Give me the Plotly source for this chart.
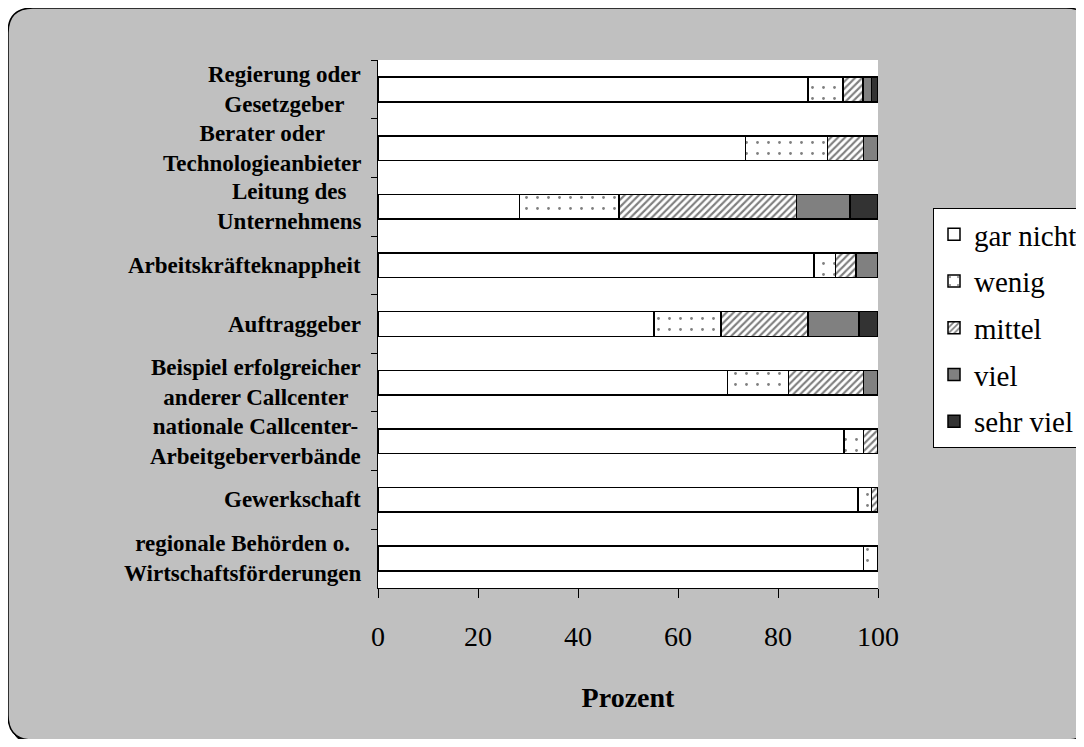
import plotly.graph_objects as go

categories = [
    "Regierung oder<br>Gesetzgeber",
    "Berater oder<br>Technologieanbieter",
    "Leitung des<br>Unternehmens",
    "Arbeitskräfteknappheit",
    "Auftraggeber",
    "Beispiel erfolgreicher<br>anderer Callcenter",
    "nationale Callcenter-<br>Arbeitgeberverbände",
    "Gewerkschaft",
    "regionale Behörden o.<br>Wirtschaftsförderungen",
]

gar_nicht = [86.0, 73.5, 28.3, 87.2, 55.2, 69.9, 93.2, 96.0, 97.1]
wenig = [7.0, 16.4, 19.9, 4.3, 13.4, 12.2, 3.9, 2.7, 2.9]
mittel = [4.0, 7.2, 35.5, 4.1, 17.4, 15.0, 2.9, 1.3, 0]
viel = [1.7, 2.9, 10.7, 4.4, 10.2, 2.9, 0, 0, 0]
sehr_viel = [1.3, 0, 5.6, 0, 3.8, 0, 0, 0, 0]

series_names = ["gar nicht", "wenig", "mittel", "viel", "sehr viel"]
x_ticks = [0, 20, 40, 60, 80, 100]

FONT = "Liberation Serif, Times New Roman, serif"

# page has an 8px body margin, so the figure is 16px smaller than the window
W_FIG, H_FIG = 1068, 731
OFF = 8
# plot area in page pixels
L, R, T, B = 378, 878, 60, 588


def px(x):
    return (x - L) / (R - L)


def py(y):
    return (B - y) / (B - T)


def rounded_rect(x0, y0, x1, y1, r):
    pts = [
        f"M{px(x0 + r)},{py(y0)}",
        f"L{px(x1 - r)},{py(y0)}",
        f"Q{px(x1)},{py(y0)} {px(x1)},{py(y0 + r)}",
        f"L{px(x1)},{py(y1 - r)}",
        f"Q{px(x1)},{py(y1)} {px(x1 - r)},{py(y1)}",
        f"L{px(x0 + r)},{py(y1)}",
        f"Q{px(x0)},{py(y1)} {px(x0)},{py(y1 - r)}",
        f"L{px(x0)},{py(y0 + r)}",
        f"Q{px(x0)},{py(y0)} {px(x0 + r)},{py(y0)}",
        "Z",
    ]
    return " ".join(pts)


styles = [
    dict(color="white"),
    dict(color="white", pattern=dict(shape=".", fgcolor="black", bgcolor="white", size=11, solidity=0.05)),
    dict(color="white", pattern=dict(shape="/", fgcolor="black", bgcolor="white", size=5, solidity=0.42)),
    dict(color="#808080"),
    dict(color="#333333"),
]

fig = go.Figure()
for name, vals, st in zip(series_names, [gar_nicht, wenig, mittel, viel, sehr_viel], styles):
    fig.add_trace(go.Bar(
        y=categories,
        x=vals,
        name=name,
        orientation="h",
        width=0.42,
        legendgroup=name,
        marker=dict(line=dict(color="black", width=1.5), **st),
    ))

# category labels, centred lines like the original
for cat in categories:
    fig.add_annotation(
        x=px(363), xref="paper", xanchor="right",
        y=cat, yref="y", yanchor="middle",
        text=f"<b>{cat}</b>", showarrow=False, align="center",
        font=dict(family=FONT, size=23, color="black"),
    )

# grey rounded background with shadow, then white plot area
fig.add_shape(type="path", xref="paper", yref="paper", layer="below",
              path=rounded_rect(11, 12, 1094, 744, 25),
              fillcolor="black", line=dict(color="black", width=1))
fig.add_shape(type="path", xref="paper", yref="paper", layer="below",
              path=rounded_rect(8, 8, 1091, 740, 25),
              fillcolor="#c0c0c0", line=dict(color="black", width=1.5))
fig.add_shape(type="rect", xref="paper", yref="paper", layer="below",
              x0=0, x1=1, y0=0, y1=1, fillcolor="white", line=dict(width=0))

fig.update_layout(
    width=W_FIG, height=H_FIG,
    margin=dict(l=L - OFF, r=W_FIG - (R - OFF), t=T - OFF, b=H_FIG - (B - OFF), autoexpand=False),
    barmode="stack",
    paper_bgcolor="white",
    plot_bgcolor="white",
    font=dict(family=FONT, color="black"),
    xaxis=dict(
        range=[0, 100], tickvals=x_ticks, ticks="outside", ticklen=9, tickcolor="black",
        showline=True, linecolor="black", linewidth=1, showgrid=False, zeroline=False,
        tickfont=dict(family=FONT, size=28), ticklabelstandoff=14,
        title=dict(text="<b>Prozent</b>", font=dict(family=FONT, size=28), standoff=36),
    ),
    yaxis=dict(
        autorange="reversed", showticklabels=False, ticks="outside", ticklen=6,
        tickcolor="black", tickson="boundaries", showline=True, linecolor="black",
        linewidth=1, showgrid=False,
    ),
    legend=dict(
        x=px(933), y=py(208), xanchor="left", yanchor="top",
        bgcolor="white", bordercolor="black", borderwidth=1,
        font=dict(family=FONT, size=29), traceorder="grouped", tracegroupgap=6,
    ),
)

fig.write_html("out.html")
